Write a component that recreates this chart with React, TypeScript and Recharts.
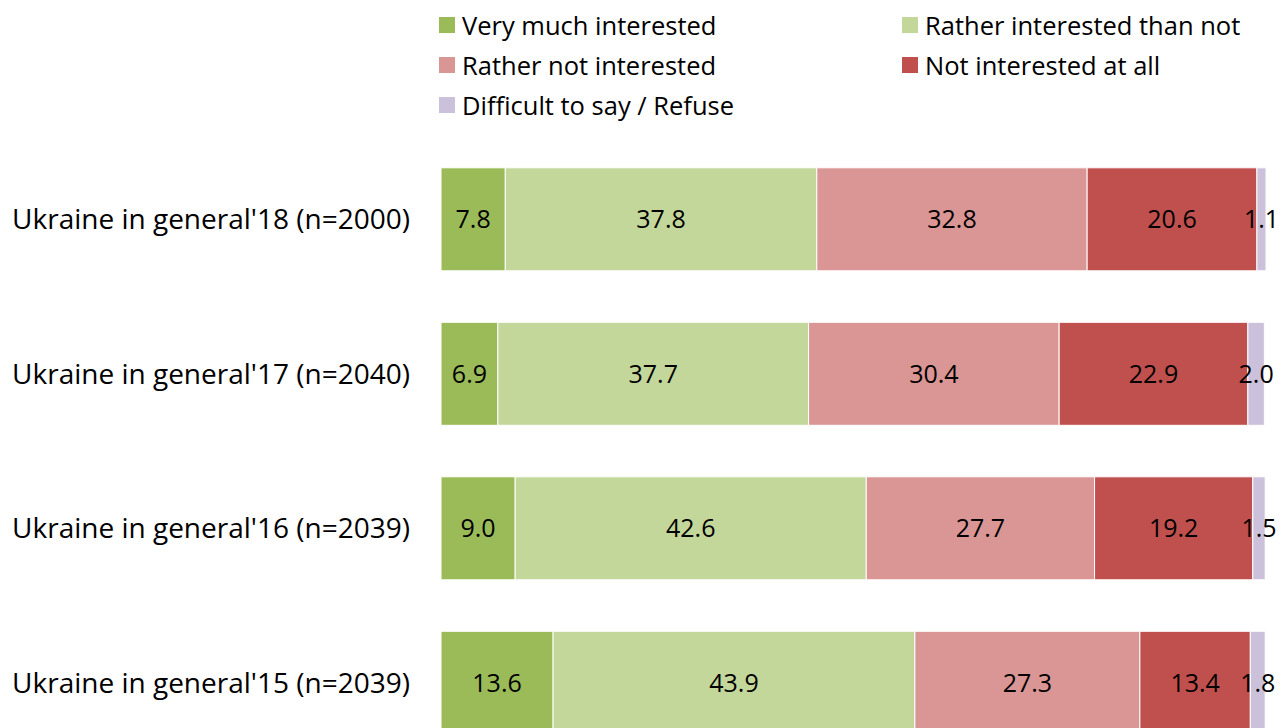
import React from "react";
import { BarChart, Bar, XAxis, YAxis, LabelList, Legend } from "recharts";

const categories = [
  "Ukraine in general'18 (n=2000)",
  "Ukraine in general'17 (n=2040)",
  "Ukraine in general'16 (n=2039)",
  "Ukraine in general'15 (n=2039)",
];
const veryMuch = [7.8, 6.9, 9.0, 13.6];
const ratherInterested = [37.8, 37.7, 42.6, 43.9];
const ratherNot = [32.8, 30.4, 27.7, 27.3];
const notAtAll = [20.6, 22.9, 19.2, 13.4];
const difficult = [1.1, 2.0, 1.5, 1.8];

const seriesNames = [
  "Very much interested",
  "Rather interested than not",
  "Rather not interested",
  "Not interested at all",
  "Difficult to say / Refuse",
];
const seriesKeys = ["v1", "v2", "v3", "v4", "v5"];
const colors = ["#9BBB59", "#C4D79B", "#DA9694", "#C0504D", "#CCC1DA"];

const data = categories.map((c, i) => ({
  name: c,
  v1: veryMuch[i],
  v2: ratherInterested[i],
  v3: ratherNot[i],
  v4: notAtAll[i],
  v5: difficult[i],
}));

const FONT = "'Open Sans', Lato, sans-serif";

const LegendContent = () => {
  const pos = [
    { left: 439, top: 12 },
    { left: 902, top: 12 },
    { left: 439, top: 52 },
    { left: 902, top: 52 },
    { left: 439, top: 92 },
  ];
  return (
    <div style={{ position: "relative", width: 1282, height: 130 }}>
      {seriesNames.map((n, i) => (
        <div
          key={n}
          style={{
            position: "absolute",
            left: pos[i].left,
            top: pos[i].top,
            display: "flex",
            alignItems: "center",
            height: 26,
            fontFamily: FONT,
            fontSize: 25.5,
            color: "#000",
            whiteSpace: "nowrap",
          }}
        >
          <span
            style={{
              display: "inline-block",
              width: 16,
              height: 16,
              background: colors[i],
              marginRight: 7,
            }}
          />
          {n}
        </div>
      ))}
    </div>
  );
};

export default function App() {
  return (
    <div
      style={{
        position: "absolute",
        left: 0,
        top: 0,
        width: 1282,
        height: 728,
        overflow: "hidden",
        background: "#fff",
      }}
    >
      <BarChart
        width={1282}
        height={770}
        data={data}
        layout="vertical"
        margin={{ top: 142, right: 16, bottom: 10, left: 0 }}
        barCategoryGap="16.7%"
      >
        <XAxis type="number" domain={[0, 100]} hide />
        <YAxis
          type="category"
          dataKey="name"
          width={441}
          axisLine={false}
          tickLine={false}
          tickSize={0}
          tickMargin={31}
          tick={{ fill: "#000", fontSize: 28, fontFamily: FONT }}
        />
        <Legend
          layout="horizontal"
          verticalAlign="middle"
          align="center"
          wrapperStyle={{ position: "absolute", top: 0, left: 0, width: 1282 }}
          content={() => <LegendContent />}
        />
        {seriesKeys.map((k, i) => (
          <Bar
            key={k}
            dataKey={k}
            name={seriesNames[i]}
            stackId="a"
            fill={colors[i]}
            stroke="#ffffff"
            strokeWidth={1}
            isAnimationActive={false}
          >
            <LabelList
              dataKey={k}
              position="center"
              formatter={(v: any) => Number(v).toFixed(1)}
              style={{ fill: "#000", fontSize: 25, fontFamily: FONT }}
            />
          </Bar>
        ))}
      </BarChart>
    </div>
  );
}
